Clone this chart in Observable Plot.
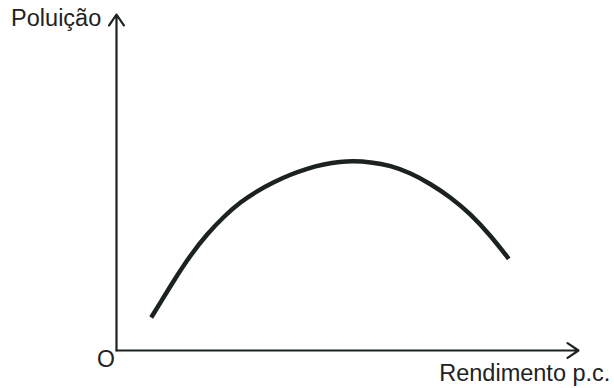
<!DOCTYPE html>
<html>
<head>
<meta charset="utf-8">
<script src="https://cdn.jsdelivr.net/npm/d3@7"></script>
<script src="https://cdn.jsdelivr.net/npm/@observablehq/plot@0.6"></script>
<style>
  html, body { margin: 0; padding: 0; background: #fff; }
  #chart svg { display: block; }
</style>
</head>
<body>
<div id="chart"></div>
<script>
// Curve (0–100 on both axes)
const rendimento = [7.51, 9.52, 12.40, 16.02, 19.63, 23.23, 26.84, 30.45, 34.05, 37.66, 41.28, 44.87, 48.48, 51.08, 54.98, 59.31, 63.64, 67.97, 72.29, 76.62, 80.95, 84.91];
const poluicao   = [9.82, 14.29, 20.83, 28.42, 34.67, 39.88, 44.20, 47.47, 50.15, 52.38, 54.17, 55.42, 56.16, 56.37, 56.10, 55.06, 52.83, 49.61, 45.63, 40.68, 34.23, 27.29];
const yLabel = "Poluição";
const xLabel = "Rendimento p.c.";
const originLabel = "O";

const curve = rendimento.map((x, i) => ({x, y: poluicao[i]}));
const ink = "#1b2220";

const chart = Plot.plot({
  width: 614,
  height: 388,
  marginLeft: 116,
  marginRight: 36,
  marginTop: 14,
  marginBottom: 38,
  x: {domain: [0, 100], axis: null},
  y: {domain: [0, 100], axis: null},
  style: {background: "#fff", fontFamily: "'Liberation Sans', Arial, sans-serif"},
  marks: [
    Plot.arrow([{x1: 0, y1: 0, x2: 0, y2: 100}, {x1: 0, y1: 0, x2: 100, y2: 0}], {
      x1: "x1", y1: "y1", x2: "x2", y2: "y2",
      stroke: ink, strokeWidth: 2.2, headAngle: 68, headLength: 9, bend: 0
    }),
    Plot.line(curve, {x: "x", y: "y", curve: "basis", stroke: ink, strokeWidth: 4.5, strokeLinecap: "butt"}),
    Plot.text([yLabel], {x: -3.3, y: 96.5, text: d => d, textAnchor: "end", lineAnchor: "bottom", fontSize: 23.5, fill: "#222"}),
    Plot.text([originLabel], {x: -2.3, y: -4.8, text: d => d, textAnchor: "middle", lineAnchor: "bottom", fontSize: 23, fill: "#222"}),
    Plot.text([xLabel], {x: 106.9, y: -9.2, text: d => d, textAnchor: "end", lineAnchor: "bottom", fontSize: 23.5, fill: "#222"})
  ]
});
document.getElementById("chart").appendChild(chart);
</script>
</body>
</html>
